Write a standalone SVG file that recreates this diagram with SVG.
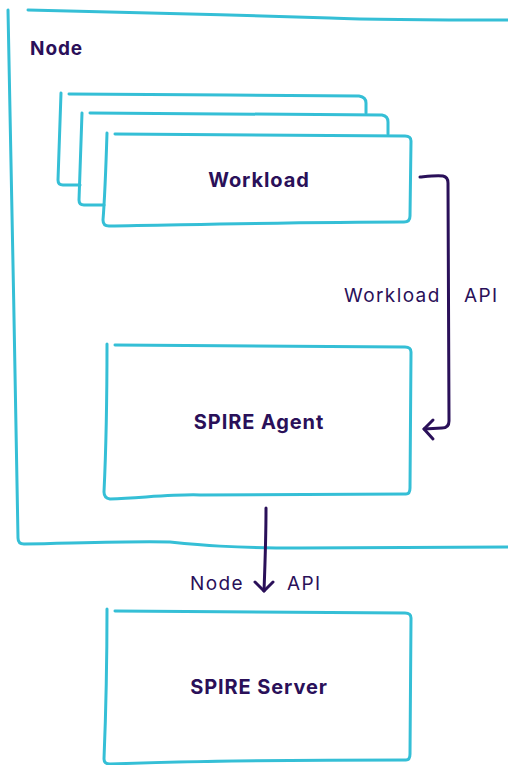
<svg xmlns="http://www.w3.org/2000/svg" width="508" height="765" viewBox="0 0 508 765">
<defs>
<style>
.box{fill:none;stroke:#35bfd6;stroke-width:3;stroke-linecap:round;stroke-linejoin:round}
.conn{fill:none;stroke:#2a1059;stroke-width:3;stroke-linecap:round;stroke-linejoin:round}
.title{font-family:Inter,"Liberation Sans",sans-serif;font-weight:700;fill:#2a1059;letter-spacing:0.9px}
.lbl{font-family:Inter,"Liberation Sans",sans-serif;font-weight:400;fill:#2a1059;font-size:19px;letter-spacing:1.4px}
</style>
</defs>
<rect width="508" height="765" fill="#fff"/>
<g id="node-container">
<path class="box" d="M8,10 C10,150 16,380 18,538 Q18,544 24,544 C80,543 130,541 170,542 C200,545 230,548 300,548 L508,547"/>
<path class="box" d="M28,10 C120,12 230,15 330,18 C380,20 440,20 508,20"/>
<text class="title" x="30" y="55" font-size="19">Node</text>
</g>
<g id="workload">
<path class="box" d="M61,93 C60,120 59,150 58,180 Q58,185 63,185 L80,185"/>
<path class="box" d="M69,94 C170,95 260,95 359,96 Q366,97 366,103 L366,113"/>
<path class="box" d="M82,113 C81,140 80,170 79,200 Q79,205 84,205 L104,205"/>
<path class="box" d="M90,113 C190,114 290,114 382,115 Q388,116 388,122 L388,134"/>
<path class="box" d="M107,133 C106,165 105,195 103,220 Q103,226 109,226 C180,225 300,222 404,222 Q410,222 410,216 L411,141 Q411,136 405,136 C320,135 220,134 115,134"/>
<text class="title" x="259" y="187" font-size="20" text-anchor="middle">Workload</text>
</g>
<g id="spire-agent">
<path class="box" d="M107,344 C107,400 106,450 104,492 Q104,498 110,499 C150,497 180,494 200,495 L406,494 Q410,494 410,488 L411,352 Q411,347 405,347 C320,347 220,345 115,345"/>
<text class="title" x="259" y="429" font-size="20" text-anchor="middle">SPIRE Agent</text>
</g>
<g id="spire-server">
<path class="box" d="M107,609 C107,660 106,710 104,759 Q104,764 110,764 C200,761 300,760 406,760 Q410,760 410,754 L411,618 Q411,613 405,613 C320,612 220,611 115,611"/>
<text class="title" x="259" y="694" font-size="20" text-anchor="middle">SPIRE Server</text>
</g>
<g id="connectors">
<path class="conn" d="M420,177 C430,176 438,175 443,176 Q448,177 448,183 C448,260 449,340 449,421 Q449,428 442,428 L424,429"/>
<path class="conn" d="M433,420 L424,429 L433,439"/>
<text class="lbl" x="344" y="302">Workload</text>
<text class="lbl" x="464" y="302">API</text>
<path class="conn" d="M266,508 C266,540 265,565 264,591"/>
<path class="conn" d="M255,582 L264,591 L273,582"/>
<text class="lbl" x="190" y="590">Node</text>
<text class="lbl" x="287" y="590">API</text>
</g>
</svg>
